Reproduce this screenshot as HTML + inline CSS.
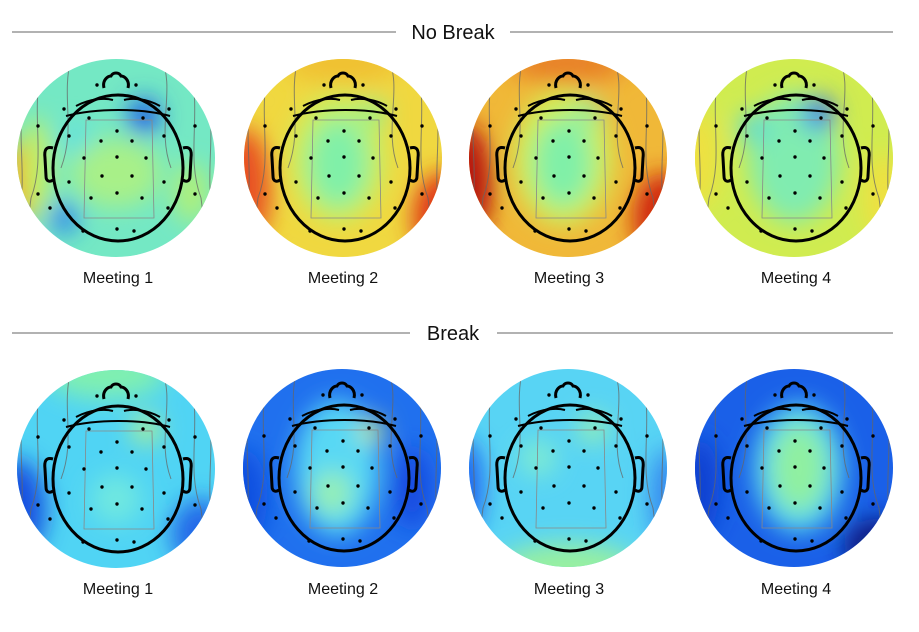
<!DOCTYPE html>
<html><head><meta charset="utf-8"><style>
body{margin:0;background:#fff;}
svg{display:block;font-family:"Liberation Sans",sans-serif;}
</style></head><body>
<svg width="919" height="632" viewBox="0 0 919 632" xmlns="http://www.w3.org/2000/svg">
<defs>
<filter id="bl" x="-50%" y="-50%" width="200%" height="200%"><feGaussianBlur stdDeviation="12"/></filter>
<clipPath id="cc"><circle cx="0" cy="0" r="99"/></clipPath>
<g id="cont" fill="none" stroke="#666" stroke-width="1" opacity="0.75">
<path d="M-75,-90 C-85,-40 -70,0 -85,40 C-90,70 -80,90 -75,100"/>
<path d="M-92,-60 C-100,-20 -88,20 -98,60"/>
<path d="M75,-90 C85,-40 70,0 85,40 C90,70 80,90 75,100"/>
<path d="M92,-60 C100,-20 88,20 98,60"/>
<path d="M-45,-100 C-55,-60 -40,-30 -55,10"/>
<path d="M45,-100 C60,-70 40,-30 55,10"/>
</g>
<g id="head">
<g fill="none" stroke="#000" stroke-width="3">
<path d="M-12,-70 C-14,-78 -8,-82 -5,-82 C-3,-86 3,-86 5,-82 C8,-82 14,-78 12,-70"/>
<ellipse cx="2" cy="10" rx="65" ry="73"/>
<path d="M-63,-10 C-70,-12 -72,-8 -71,0 L-70,18 C-70,24 -66,24 -63,22"/>
<path d="M67,-10 C74,-12 76,-8 75,0 L74,18 C74,24 70,24 67,22"/>
</g>
<g fill="none" stroke="#000" stroke-width="2">
<path d="M-40,-52 C-25,-60 -10,-60 -3,-58"/><path d="M8,-58 C15,-60 30,-60 44,-52"/>
<path d="M-50,-42 C-20,-50 25,-50 54,-42"/>
</g>
<g fill="none" stroke="#888" stroke-width="0.8">
<path d="M-30,-38 L36,-38 L38,60 L-32,60 Z"/>
</g>
<g fill="#000">
<circle cx="-19" cy="-73" r="1.7"/><circle cx="20" cy="-73" r="1.7"/>
<circle cx="-52" cy="-49" r="1.7"/><circle cx="53" cy="-49" r="1.7"/>
<circle cx="-78" cy="-32" r="1.7"/><circle cx="79" cy="-32" r="1.7"/>
<circle cx="-27" cy="-40" r="1.7"/><circle cx="27" cy="-40" r="1.7"/>
<circle cx="1" cy="-27" r="1.7"/>
<circle cx="-47" cy="-22" r="1.7"/><circle cx="48" cy="-22" r="1.7"/>
<circle cx="-15" cy="-17" r="1.7"/><circle cx="16" cy="-17" r="1.7"/>
<circle cx="-32" cy="0" r="1.7"/><circle cx="1" cy="-1" r="1.7"/><circle cx="30" cy="0" r="1.7"/>
<circle cx="-14" cy="18" r="1.7"/><circle cx="16" cy="18" r="1.7"/>
<circle cx="-47" cy="24" r="1.7"/><circle cx="48" cy="24" r="1.7"/>
<circle cx="-78" cy="36" r="1.7"/><circle cx="79" cy="36" r="1.7"/>
<circle cx="-25" cy="40" r="1.7"/><circle cx="1" cy="35" r="1.7"/><circle cx="26" cy="40" r="1.7"/>
<circle cx="-66" cy="50" r="1.7"/><circle cx="52" cy="50" r="1.7"/>
<circle cx="-33" cy="73" r="1.7"/><circle cx="1" cy="71" r="1.7"/><circle cx="18" cy="73" r="1.7"/>
</g>
</g>
</defs>

<line x1="12" y1="32" x2="396" y2="32" stroke="#666" stroke-width="1"/>
<line x1="510" y1="32" x2="893" y2="32" stroke="#666" stroke-width="1"/>
<text x="453" y="39" font-size="20" text-anchor="middle" fill="#111">No Break</text>
<line x1="12" y1="333" x2="410" y2="333" stroke="#666" stroke-width="1"/>
<line x1="497" y1="333" x2="893" y2="333" stroke="#666" stroke-width="1"/>
<text x="453" y="340" font-size="20" text-anchor="middle" fill="#111">Break</text>

<!-- Row 1 -->
<g transform="translate(116,158)"><g clip-path="url(#cc)">
<rect x="-100" y="-100" width="200" height="200" fill="#74e8c4"/>
<g filter="url(#bl)">
<ellipse cx="0" cy="15" rx="45" ry="35" fill="#a8f088"/>
<ellipse cx="75" cy="35" rx="18" ry="30" fill="#b0f078"/>
<ellipse cx="-100" cy="25" rx="22" ry="40" fill="#f0a028"/>
<ellipse cx="-80" cy="10" rx="15" ry="50" fill="#c8f060"/>
<ellipse cx="28" cy="-42" rx="16" ry="18" fill="#1a58e8"/>
<ellipse cx="-52" cy="60" rx="14" ry="16" fill="#2880f0"/>
<ellipse cx="-40" cy="-20" rx="15" ry="15" fill="#60e0e0"/>
</g><use href="#cont"/></g><use href="#head"/></g>

<g transform="translate(343,158)"><g clip-path="url(#cc)">
<rect x="-100" y="-100" width="200" height="200" fill="#f0d840"/>
<g filter="url(#bl)">
<ellipse cx="-5" cy="0" rx="48" ry="65" fill="#c8f060"/>
<ellipse cx="-5" cy="5" rx="30" ry="45" fill="#80f0a8"/>
<ellipse cx="-100" cy="30" rx="28" ry="60" fill="#e85020"/>
<ellipse cx="100" cy="60" rx="30" ry="45" fill="#e03018"/>
<ellipse cx="0" cy="-95" rx="60" ry="20" fill="#f0c030"/>
<ellipse cx="30" cy="-45" rx="14" ry="14" fill="#90f090"/>
</g><use href="#cont"/></g><use href="#head"/></g>

<g transform="translate(568,158)"><g clip-path="url(#cc)">
<rect x="-100" y="-100" width="200" height="200" fill="#f0b838"/>
<g filter="url(#bl)">
<ellipse cx="-5" cy="0" rx="50" ry="68" fill="#d0f058"/>
<ellipse cx="-5" cy="5" rx="30" ry="45" fill="#80f0a8"/>
<ellipse cx="-105" cy="25" rx="30" ry="60" fill="#b81810"/>
<ellipse cx="95" cy="60" rx="30" ry="45" fill="#d02810"/>
<ellipse cx="0" cy="-95" rx="60" ry="20" fill="#e88028"/>
<ellipse cx="20" cy="-45" rx="14" ry="14" fill="#90f0a0"/>
</g><use href="#cont"/></g><use href="#head"/></g>

<g transform="translate(794,158)"><g clip-path="url(#cc)">
<rect x="-100" y="-100" width="200" height="200" fill="#d0ec50"/>
<g filter="url(#bl)">
<ellipse cx="0" cy="0" rx="45" ry="65" fill="#80ecb0"/>
<ellipse cx="25" cy="-45" rx="16" ry="16" fill="#2c70f0"/>
<ellipse cx="-95" cy="0" rx="20" ry="50" fill="#f0e040"/>
<ellipse cx="90" cy="40" rx="20" ry="45" fill="#f0e040"/>
<ellipse cx="-40" cy="-30" rx="16" ry="16" fill="#60dcd0"/>
</g><use href="#cont"/></g><use href="#head"/></g>

<!-- Row 2 -->
<g transform="translate(116,469)"><g clip-path="url(#cc)">
<rect x="-100" y="-100" width="200" height="200" fill="#50d4f4"/>
<g filter="url(#bl)">
<ellipse cx="-100" cy="40" rx="30" ry="50" fill="#1450e0"/>
<ellipse cx="85" cy="65" rx="30" ry="35" fill="#2468e8"/>
<ellipse cx="-10" cy="-95" rx="60" ry="25" fill="#80f0b0"/>
<ellipse cx="30" cy="-40" rx="15" ry="15" fill="#b0f090"/>
<ellipse cx="0" cy="30" rx="25" ry="25" fill="#70e8e0"/>
</g><use href="#cont"/></g><use href="#head"/></g>

<g transform="translate(342,468)"><g clip-path="url(#cc)">
<rect x="-100" y="-100" width="200" height="200" fill="#2070ee"/>
<g filter="url(#bl)">
<ellipse cx="-5" cy="0" rx="42" ry="68" fill="#58d8f4"/>
<ellipse cx="-10" cy="25" rx="20" ry="22" fill="#98f0b0"/>
<ellipse cx="30" cy="-38" rx="12" ry="12" fill="#d0f070"/>
<ellipse cx="-100" cy="30" rx="25" ry="50" fill="#1050e0"/>
<ellipse cx="70" cy="20" rx="18" ry="40" fill="#1248e0"/>
</g><use href="#cont"/></g><use href="#head"/></g>

<g transform="translate(568,468)"><g clip-path="url(#cc)">
<rect x="-100" y="-100" width="200" height="200" fill="#58d4f4"/>
<g filter="url(#bl)">
<ellipse cx="0" cy="100" rx="70" ry="25" fill="#98f0a0"/>
<ellipse cx="-105" cy="20" rx="20" ry="50" fill="#1c60f0"/>
<ellipse cx="100" cy="30" rx="18" ry="50" fill="#3488f0"/>
<ellipse cx="25" cy="-40" rx="15" ry="15" fill="#98f0b0"/>
<ellipse cx="-30" cy="-10" rx="18" ry="18" fill="#80ecd0"/>
</g><use href="#cont"/></g><use href="#head"/></g>

<g transform="translate(794,468)"><g clip-path="url(#cc)">
<rect x="-100" y="-100" width="200" height="200" fill="#1a60e8"/>
<g filter="url(#bl)">
<ellipse cx="5" cy="0" rx="45" ry="65" fill="#58d8f0"/>
<ellipse cx="5" cy="0" rx="28" ry="45" fill="#90f0a0"/>
<ellipse cx="85" cy="80" rx="35" ry="30" fill="#081c80"/>
<ellipse cx="-95" cy="20" rx="20" ry="50" fill="#1040d0"/>
</g><use href="#cont"/></g><use href="#head"/></g>

<g font-size="16" text-anchor="middle" fill="#111">
<text x="118" y="283">Meeting 1</text><text x="343" y="283">Meeting 2</text>
<text x="569" y="283">Meeting 3</text><text x="796" y="283">Meeting 4</text>
<text x="118" y="594">Meeting 1</text><text x="343" y="594">Meeting 2</text>
<text x="569" y="594">Meeting 3</text><text x="796" y="594">Meeting 4</text>
</g>
</svg>
</body></html>
